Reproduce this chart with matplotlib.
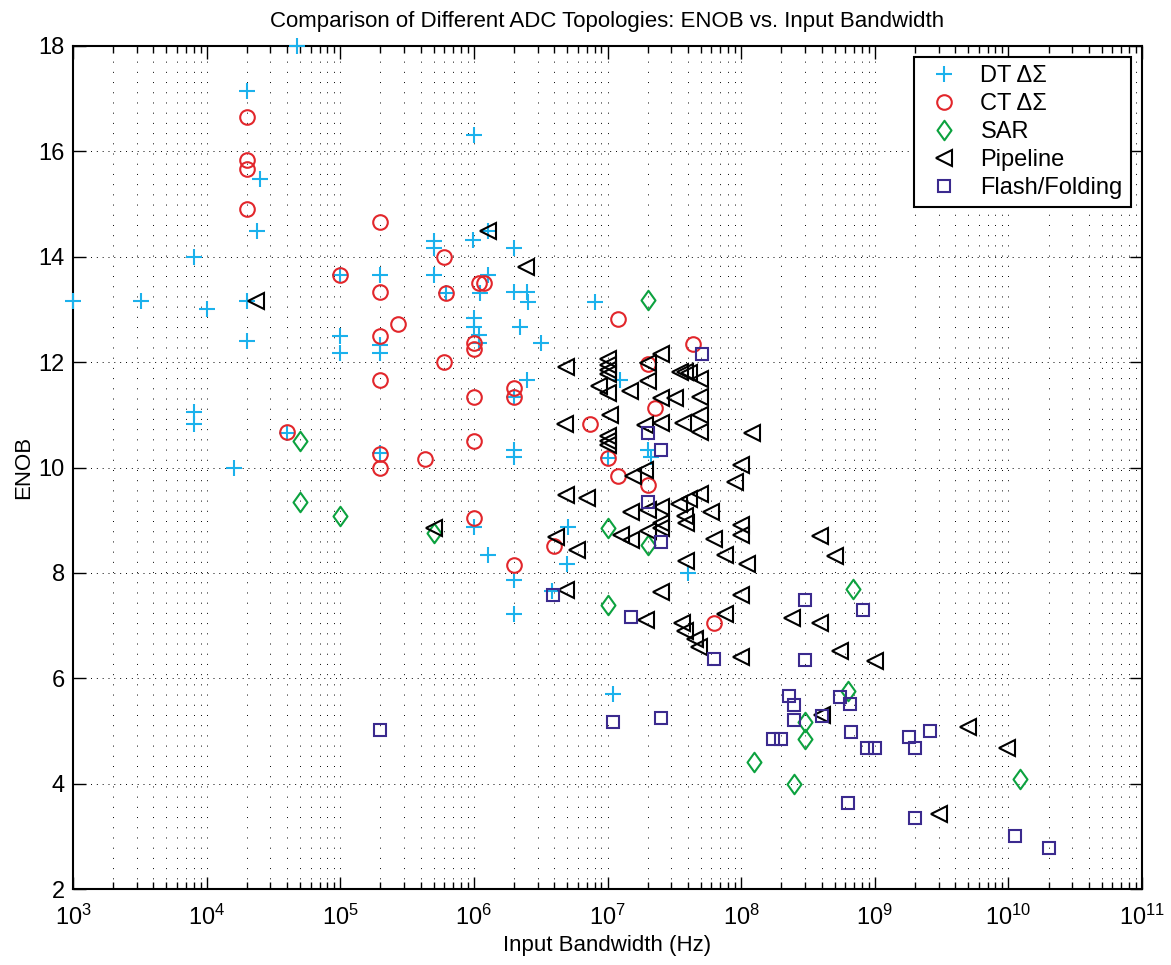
import matplotlib
matplotlib.use("Agg")
import matplotlib.pyplot as plt
from matplotlib.path import Path
from matplotlib.ticker import FixedLocator, NullLocator, LogFormatterSciNotation

plt.rcParams['font.family'] = ['Liberation Sans', 'DejaVu Sans']
plt.rcParams['mathtext.fontset'] = 'custom'
plt.rcParams['mathtext.rm'] = 'Liberation Sans'
plt.rcParams['mathtext.it'] = 'Liberation Sans'

# ---- data: input bandwidth (Hz) and ENOB (bits) per architecture ----
dt_bw = [1e3, 3.2e3, 8e3, 1e4, 2e4, 2.5e4, 2.4e4, 2e4, 2e4, 8e3, 8e3, 1.6e4, 4.75e4,
         1e5, 1e5, 1e5, 4e4, 2e5, 2e5, 2e5, 2e5, 5e5, 5e5, 5e5, 9.8e5, 1.28e6, 1.27e6,
         1.12e6, 6.2e5, 1e6, 1e6, 1.1e6, 1.1e6, 2e6, 2e6, 2.5e6, 2.55e6, 2.2e6, 3.2e6,
         2.5e6, 2e6, 2e6, 2e6, 8e6, 1.24e7, 1e7, 2e7, 2.1e7, 1e6, 1.28e6, 5.1e6, 5e6,
         2e6, 2e6, 3.85e6, 1.1e7, 4e7, 1e6]
dt_enob = [13.16, 13.16, 14.0, 13.0, 17.15, 15.48, 14.49, 13.16, 12.4, 11.05, 10.83, 10.0, 18.0,
           13.65, 12.5, 12.17, 10.66, 13.65, 12.33, 12.17, 10.27, 14.3, 14.17, 13.65, 14.32, 14.49, 13.65,
           13.31, 13.31, 12.84, 12.67, 12.52, 12.36, 14.17, 13.33, 13.33, 13.14, 12.67, 12.36,
           11.66, 11.34, 10.33, 10.2, 13.14, 11.66, 10.18, 10.33, 10.2, 8.87, 8.34, 8.87, 8.17,
           7.86, 7.22, 7.66, 5.7, 8.0, 16.32]

ct_bw = [2e4, 2e4, 2e4, 2e4, 2e5, 1e5, 2e5, 2.7e5, 2e5, 2e5, 2e5, 2e5, 4e4, 4.3e5,
         6e5, 6.2e5, 6e5, 1e6, 1e6, 1e6, 1e6, 1e6, 1.1e6, 1.2e6, 2e6, 2e6, 2e6, 4e6,
         1.2e7, 7.4e6, 1e7, 1.2e7, 2e7, 4.4e7, 2.27e7, 2e7, 6.3e7]
ct_enob = [16.65, 15.83, 15.67, 14.91, 14.66, 13.66, 13.33, 12.72, 12.5, 11.66, 10.26, 10.0, 10.67, 10.16,
           14.0, 13.31, 12.0, 12.36, 12.25, 11.34, 10.5, 9.04, 13.5, 13.5, 11.5, 11.34, 8.15, 8.51,
           12.82, 10.83, 10.18, 9.84, 11.97, 12.34, 11.13, 9.67, 7.05]

sar_bw = [5e4, 5e4, 1e5, 5e5, 1e7, 1e7, 2e7, 2e7, 1.25e8, 2.5e8, 3e8, 3e8, 6.9e8, 6.3e8, 1.22e10]
sar_enob = [10.5, 9.35, 9.08, 8.76, 8.85, 7.39, 13.18, 8.53, 4.41, 4.0, 5.17, 4.85, 7.7, 5.76, 4.09]

pipe_bw = [2.35e4, 1.28e6, 2.46e6, 4.9e6, 1e7, 1e7, 1e7, 1e7, 2e7, 2.5e7, 2e7,
           3.5e7, 3.8e7, 4.1e7, 4.9e7, 8.7e6, 1e7, 1.48e7, 2.5e7, 3.2e7, 4.9e7,
           4.9e7, 4.9e7, 3.7e7, 2.5e7, 1.9e7, 1.05e7, 4.8e6, 1e7, 1e7, 1e7,
           1.2e8, 1e8, 9e7, 1.56e7, 1.9e7, 4.9e6, 7e6,
           1.5e7, 2e7, 2.5e7, 3.4e7, 4.1e7, 4.9e7, 3.8e7, 3.9e7, 5.9e7,
           2e7, 2.5e7, 2.5e7, 1.27e7, 1.5e7, 5.9e6, 4.1e6, 6.3e7, 1e8, 1e8,
           7.6e7, 1.1e8, 3.9e8, 5e8, 3.9e7, 4.9e6, 2.5e7, 1e8, 7.6e7, 1.95e7,
           3.6e7, 3.8e7, 4.5e7, 4.8e7, 1e8, 2.4e8, 3.9e8, 5.5e8, 1e9,
           4e8, 5e9, 9.8e9, 3e9, 5e5]
pipe_enob = [13.16, 14.49, 13.81, 11.91, 12.05, 11.95, 11.85, 11.78, 11.98, 12.15, 11.64,
             11.82, 11.82, 11.8, 11.68, 11.55, 11.42, 11.45, 11.32, 11.32, 11.34,
             11.0, 10.67, 10.85, 10.85, 10.8, 11.0, 10.83, 10.6, 10.5, 10.42,
             10.66, 10.04, 9.73, 9.84, 9.95, 9.48, 9.42,
             9.16, 9.2, 9.25, 9.3, 9.4, 9.5, 9.08, 8.95, 9.16,
             8.8, 8.85, 8.95, 8.72, 8.63, 8.44, 8.68, 8.64, 8.9, 8.72,
             8.34, 8.17, 8.7, 8.32, 8.23, 7.68, 7.64, 7.58, 7.22, 7.1,
             7.05, 6.9, 6.75, 6.6, 6.4, 7.15, 7.05, 6.52, 6.33,
             5.31, 5.08, 4.68, 3.43, 8.85]

flash_bw = [2e5, 3.9e6, 1.1e7, 1.5e7, 2.5e7, 2e7, 2.5e7, 2e7, 5.1e7, 2.5e7, 6.3e7,
            3e8, 3e8, 8.1e8, 2.3e8, 2.5e8, 2.5e8, 4e8, 5.5e8, 6.5e8, 6.6e8,
            1.74e8, 2e8, 8.7e8, 1e9, 6.3e8, 1.8e9, 2e9, 2.6e9, 2e9, 1.12e10, 2e10]
flash_enob = [5.02, 7.58, 5.17, 7.16, 5.25, 10.66, 10.33, 9.35, 12.16, 8.59, 6.37,
              7.49, 6.35, 7.3, 5.67, 5.5, 5.21, 5.29, 5.65, 5.51, 4.98,
              4.85, 4.85, 4.68, 4.68, 3.64, 4.89, 4.68, 5.0, 3.35, 3.01, 2.78]

labels = ['DT \u0394\u03a3', 'CT \u0394\u03a3', 'SAR', 'Pipeline', 'Flash/Folding']
colors = ['#1bb1ec', '#e2262b', '#0ca23f', '#000000', '#3b2a8e']

decades = [10.0 ** k for k in range(3, 12)]
minor_pos = [m * 10.0 ** k for k in range(3, 11) for m in range(2, 10)]

# tall diamond outline
diamond = Path([(0, 1), (0.72, 0), (0, -1), (-0.72, 0), (0, 1)],
               [Path.MOVETO, Path.LINETO, Path.LINETO, Path.LINETO, Path.CLOSEPOLY])

fig = plt.figure(figsize=(11.71, 9.65), dpi=100)
ax = fig.add_axes([73 / 1171, 1 - 889 / 965, (1142 - 73) / 1171, (889 - 46) / 965])

mew = 1.5
ax.plot(dt_bw, dt_enob, linestyle='none', marker='+', ms=11, mew=mew,
        color=colors[0], label=labels[0], clip_on=False, zorder=3)
ax.plot(ct_bw, ct_enob, linestyle='none', marker='o', ms=10.5, mew=mew,
        mfc='none', mec=colors[1], label=labels[1], zorder=3)
ax.plot(sar_bw, sar_enob, linestyle='none', marker=diamond, ms=14, mew=mew,
        mfc='none', mec=colors[2], label=labels[2], zorder=3)
ax.plot(pipe_bw, pipe_enob, linestyle='none', marker='<', ms=12, mew=mew,
        mfc='none', mec=colors[3], label=labels[3], zorder=3)
ax.plot(flash_bw, flash_enob, linestyle='none', marker='s', ms=8.5, mew=mew,
        mfc='none', mec=colors[4], label=labels[4], zorder=3)

ax.set_xscale('log')
ax.set_xlim(1e3, 1e11)
ax.set_ylim(2, 18)
ax.xaxis.set_major_locator(FixedLocator(decades))
ax.xaxis.set_minor_locator(FixedLocator(minor_pos))
ax.xaxis.set_major_formatter(LogFormatterSciNotation())
ax.xaxis.set_minor_formatter(matplotlib.ticker.NullFormatter())
ax.yaxis.set_major_locator(FixedLocator(range(2, 19, 2)))
ax.yaxis.set_minor_locator(NullLocator())

# dotted grid
ax.grid(True, which='major', axis='y', color='k', linewidth=0.7, linestyle=(0, (1, 5)))
ax.grid(True, which='both', axis='x', color='k', linewidth=0.7, linestyle=(0, (1, 9.5)))
ax.set_axisbelow(True)

for s in ax.spines.values():
    s.set_linewidth(1.5)
ax.tick_params(which='both', direction='in', top=True, right=True, width=1.0)
ax.tick_params(which='major', length=9, labelsize=17, pad=6)
ax.tick_params(which='minor', length=5)
ax.tick_params(axis='x', which='major', pad=11)

ax.set_title('Comparison of Different ADC Topologies: ENOB vs. Input Bandwidth',
             fontsize=16, pad=14)
ax.set_xlabel('Input Bandwidth (Hz)', fontsize=16, labelpad=4)
ax.set_ylabel('ENOB', fontsize=16, labelpad=3)

leg = ax.legend(loc='upper right', bbox_to_anchor=(0.9897, 0.987), borderaxespad=0,
                numpoints=1, fontsize=17, frameon=True, fancybox=False,
                framealpha=1, edgecolor='k', borderpad=0.35, labelspacing=0.25,
                handlelength=1.8, handletextpad=0.65)
leg.get_frame().set_linewidth(1.5)

fig.savefig('out.png', dpi=100)
